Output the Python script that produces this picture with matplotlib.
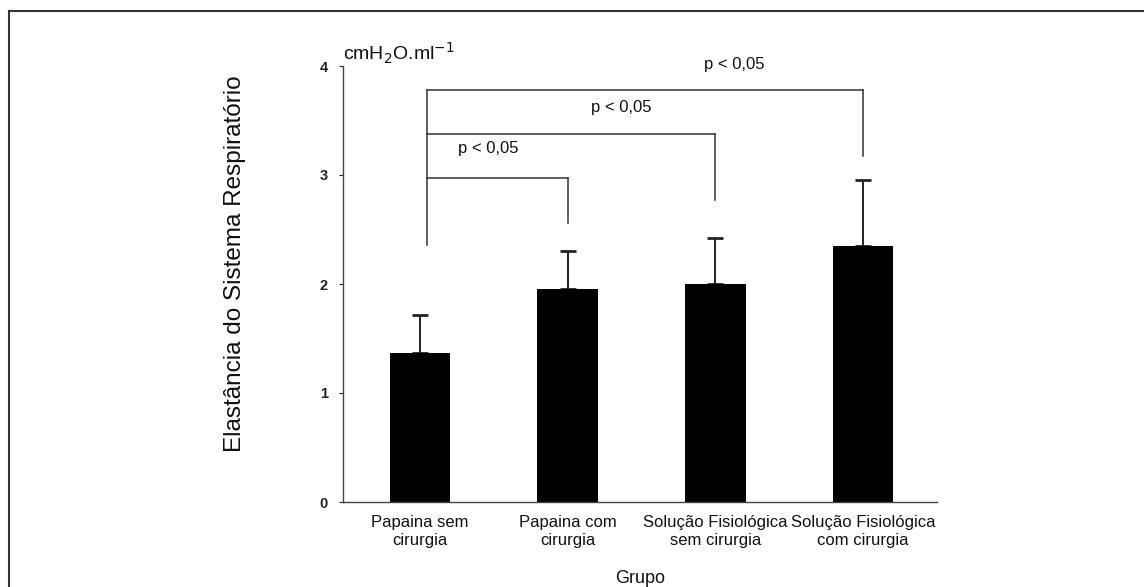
import matplotlib
matplotlib.use("Agg")
import matplotlib.pyplot as plt
from matplotlib.lines import Line2D
import numpy as np

plt.rcParams['font.family'] = ['Liberation Sans', 'DejaVu Sans']

# data
grupos = ['Papaina sem\ncirurgia', 'Papaina com\ncirurgia',
          'Solução Fisiológica\nsem cirurgia', 'Solução Fisiológica\ncom cirurgia']
medias = [1.37, 1.95, 2.00, 2.35]
erros = [0.35, 0.35, 0.42, 0.60]

# significance brackets: all start at group 0
brackets_to = [1, 2, 3]
brackets_y = [2.97, 3.38, 3.78]
brackets_end = [2.56, 2.77, 3.17]
bracket_start_x = 0.05
bracket_left_bottom = 2.36
p_text = 'p < 0,05'
p_pos = [(0.46, 3.24), (1.36, 3.62), (2.13, 4.01)]

fig = plt.figure(figsize=(11.44, 5.87), dpi=100)
ax = fig.add_axes([343 / 1144, 1 - 502 / 587, 594 / 1144, 436 / 587])

x = np.arange(len(grupos))
ax.bar(x, medias, width=0.41, color='black', zorder=2)
ax.errorbar(x, medias, yerr=[np.zeros(len(erros)), erros], fmt='none',
            ecolor='#222222', elinewidth=1.4, capsize=6, capthick=2, zorder=1)

line_kw = dict(color='#333333', lw=1.1)
ax.plot([bracket_start_x, bracket_start_x], [bracket_left_bottom, max(brackets_y)], **line_kw)
for to, yb, ye in zip(brackets_to, brackets_y, brackets_end):
    ax.plot([bracket_start_x, to], [yb, yb], **line_kw)
    ax.plot([to, to], [yb, ye], **line_kw)
for px, py in p_pos:
    ax.text(px, py, p_text, ha='center', va='center', fontsize=12, clip_on=False,
            color='#111111')

ax.set_xlim(-0.52, 3.50)
ax.set_ylim(0, 4)
ax.set_yticks([0, 1, 2, 3, 4])
ax.set_xticks(x)
ax.set_xticklabels(grupos, fontsize=12, linespacing=1.3, color='#111111')
ax.tick_params(axis='x', length=0, pad=9)
ax.tick_params(axis='y', length=3, width=0.8, labelsize=10.5, pad=8, colors='#222222')
for lab in ax.get_yticklabels():
    lab.set_fontweight('bold')

for s in ['top', 'right']:
    ax.spines[s].set_visible(False)
for s in ['left', 'bottom']:
    ax.spines[s].set_color('#444444')
    ax.spines[s].set_linewidth(1.0)

ax.set_ylabel('Elastância do Sistema Respiratório', fontsize=17.5, color='#111111')
ax.yaxis.set_label_coords(-0.163, 0.546)
ax.set_xlabel('Grupo', fontsize=13, color='#111111')
ax.xaxis.set_label_coords(0.5, -0.155)

ax.text(0.0, 1.0, r'cmH$_2$O.ml$^{-1}$', transform=ax.transAxes,
        fontsize=14, ha='left', va='bottom', color='#111111')

# border of the original panel
fig.add_artist(Line2D([9 / 1144, 9 / 1144], [0, 1 - 11 / 587], color='#333333', lw=1.5))
fig.add_artist(Line2D([9 / 1144, 1], [1 - 11 / 587, 1 - 11 / 587], color='#333333', lw=1.5))

fig.savefig('out.png', dpi=100)
